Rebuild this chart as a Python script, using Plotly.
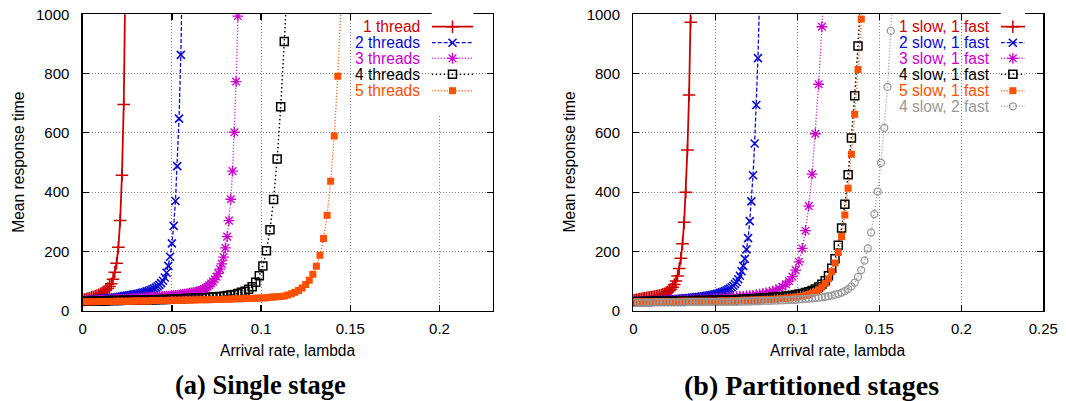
import plotly.graph_objects as go

W, H = 1066, 401

# ---------------- data ----------------
# arrival-rate grids (lambda)
LAM_FINE = [
    0.000, 0.001, 0.002, 0.003, 0.004, 0.005, 0.006, 0.007, 0.008, 0.009,
    0.010, 0.011, 0.012, 0.013, 0.014, 0.015, 0.016, 0.017, 0.018, 0.019,
    0.020, 0.021, 0.022, 0.023, 0.024, 0.025, 0.026, 0.027, 0.028, 0.029,
    0.030, 0.031, 0.032, 0.033, 0.034, 0.035, 0.036, 0.037, 0.038, 0.039,
    0.040, 0.041, 0.042, 0.043, 0.044, 0.045, 0.046, 0.047, 0.048, 0.049,
    0.050, 0.051, 0.052, 0.053, 0.054, 0.055, 0.056, 0.057, 0.058, 0.059,
    0.060, 0.061, 0.062, 0.063, 0.064, 0.065, 0.066, 0.067, 0.068, 0.069,
    0.070, 0.071, 0.072, 0.073, 0.074, 0.075, 0.076, 0.077, 0.078, 0.079,
    0.080, 0.081, 0.082, 0.083, 0.084, 0.085, 0.086, 0.087, 0.088]
LAM_ODD = [
    0.001, 0.003, 0.005, 0.007, 0.009, 0.011, 0.013, 0.015, 0.017, 0.019,
    0.021, 0.023, 0.025, 0.027, 0.029, 0.031, 0.033, 0.035, 0.037, 0.039,
    0.041, 0.043, 0.045, 0.047, 0.049, 0.051, 0.053, 0.055, 0.057, 0.059,
    0.061, 0.063, 0.065, 0.067, 0.069, 0.071, 0.073, 0.075, 0.077, 0.079,
    0.081, 0.083, 0.085, 0.087, 0.089, 0.091, 0.093, 0.095, 0.097, 0.099,
    0.101, 0.103, 0.105, 0.107, 0.109, 0.111, 0.113, 0.115, 0.117, 0.119,
    0.121, 0.123, 0.125, 0.127, 0.129, 0.131, 0.133, 0.135, 0.137, 0.139,
    0.141, 0.143, 0.145, 0.147, 0.149, 0.151, 0.153, 0.155, 0.157, 0.159]

# (a) Single stage
single_names = ["1 thread", "2 threads", "3 threads", "4 threads", "5 threads"]
t_1_thread = [37, 38, 39, 41, 43, 45, 47, 49, 51, 54, 57, 60, 64, 69, 75, 82, 91,
              106, 130, 160, 214, 304, 457, 696, 1150]
t_2_threads = [35, 35, 36, 36, 37, 37, 38, 38, 39, 39, 40, 40, 41, 41, 42, 43, 43,
               44, 45, 45, 46, 47, 48, 49, 50, 51, 52, 53, 54, 55, 56, 57, 58, 60,
               61, 63, 65, 67, 69, 72, 75, 78, 82, 87, 93, 101, 112, 128, 151, 182,
               227, 286, 370, 488, 648, 863, 1200]
t_3_threads = [33, 33, 33, 34, 34, 34, 34, 35, 35, 35, 35, 36, 36, 36, 36, 37, 37,
               37, 37, 38, 38, 38, 39, 39, 39, 40, 40, 40, 41, 41, 41, 42, 42, 42,
               43, 43, 43, 44, 44, 45, 45, 46, 46, 47, 47, 48, 48, 49, 49, 50, 50,
               51, 52, 52, 53, 54, 55, 56, 57, 58, 59, 60, 61, 62, 64, 65, 67, 70,
               73, 77, 81, 86, 92, 98, 106, 115, 126, 140, 158, 181, 212, 250, 304,
               376, 471, 602, 773, 994, 1290]
t_4_threads = [32, 32, 32, 33, 33, 33, 33, 34, 34, 34, 34, 35, 35, 35, 35, 36, 36,
               36, 37, 37, 37, 38, 38, 38, 39, 39, 40, 40, 41, 41, 42, 42, 43, 44,
               44, 45, 46, 47, 48, 49, 51, 53, 55, 58, 62, 66, 72, 81, 96, 118, 151,
               202, 273, 375, 512, 688, 908, 1140]
t_5_threads = [30, 30, 30, 30, 31, 31, 31, 31, 31, 32, 32, 32, 32, 32, 33, 33, 33,
               33, 33, 34, 34, 34, 34, 34, 35, 35, 35, 35, 36, 36, 36, 36, 37, 37,
               37, 37, 38, 38, 38, 39, 39, 39, 40, 40, 40, 41, 41, 42, 42, 43, 43,
               44, 45, 46, 47, 48, 50, 53, 57, 62, 68, 77, 88, 103, 123, 150, 187,
               244, 322, 437, 589, 791, 1060]

# (b) Partitioned stages
part_names = ["1 slow, 1 fast", "2 slow, 1 fast", "3 slow, 1 fast",
              "4 slow, 1 fast", "5 slow, 1 fast", "4 slow, 2 fast"]
t_1s_1f = [35, 36, 37, 38, 39, 40, 41, 42, 43, 44, 45, 46, 47, 48, 49, 50, 51, 53,
           55, 57, 60, 63, 67, 72, 79, 88, 100, 117, 142, 177, 226, 298, 400, 542,
           728, 973, 1300]
t_2s_1f = [32, 32, 32, 32, 33, 33, 33, 33, 33, 34, 34, 34, 34, 35, 35, 35, 35, 36,
           36, 36, 37, 37, 37, 38, 38, 38, 39, 39, 40, 40, 41, 41, 42, 42, 43, 43,
           44, 44, 45, 46, 46, 47, 48, 48, 49, 50, 51, 52, 53, 54, 55, 57, 58, 60,
           62, 64, 66, 69, 72, 75, 79, 84, 90, 97, 106, 118, 133, 151, 175, 207,
           245, 302, 369, 457, 564, 694, 852, 1050]
t_3s_1f = [32, 32, 32, 32, 33, 33, 33, 33, 34, 34, 34, 35, 35, 35, 36, 36, 37, 37,
           38, 38, 39, 39, 40, 40, 41, 42, 42, 43, 44, 45, 46, 47, 48, 49, 50, 51,
           52, 54, 56, 58, 60, 63, 66, 70, 75, 81, 89, 100, 115, 137, 165, 210,
           270, 353, 461, 597, 764, 958, 1200]
t_4s_1f = [31, 31, 31, 31, 31, 32, 32, 32, 32, 32, 32, 32, 33, 33, 33, 33, 33, 33,
           34, 34, 34, 34, 34, 35, 35, 35, 36, 36, 36, 37, 37, 38, 38, 39, 39, 40,
           40, 41, 42, 42, 43, 44, 45, 46, 47, 48, 49, 50, 52, 54, 56, 58, 61, 64,
           68, 73, 80, 89, 101, 118, 143, 175, 221, 279, 359, 459, 583, 725, 893,
           1100]
t_5s_1f = [30, 30, 30, 30, 30, 30, 31, 31, 31, 31, 31, 31, 31, 31, 32, 32, 32, 32,
           32, 32, 32, 32, 32, 32, 32, 32, 33, 33, 33, 33, 34, 34, 34, 35, 35, 35,
           36, 36, 37, 37, 38, 38, 39, 39, 40, 41, 42, 43, 44, 45, 47, 49, 52, 55,
           59, 64, 71, 80, 92, 108, 132, 161, 196, 250, 323, 413, 528, 663, 814,
           984, 1150]
t_4s_2f = [27, 27, 27, 27, 27, 27, 28, 28, 28, 28, 28, 28, 28, 28, 28, 28, 29, 29,
           29, 29, 29, 29, 29, 29, 29, 29, 30, 30, 30, 30, 30, 30, 31, 31, 31, 31,
           32, 32, 32, 33, 33, 33, 34, 34, 35, 35, 36, 36, 37, 37, 38, 39, 40, 41,
           42, 43, 44, 45, 47, 49, 51, 54, 57, 61, 66, 73, 82, 95, 114, 137, 169,
           210, 264, 326, 402, 499, 617, 755, 944, 1180]

x_ticks_a = [0, 0.05, 0.1, 0.15, 0.2]
x_ticks_b = [0, 0.05, 0.1, 0.15, 0.2, 0.25]
y_ticks = [0, 200, 400, 600, 800, 1000]

single_series = [
    (single_names[0], LAM_FINE, t_1_thread),
    (single_names[1], LAM_FINE, t_2_threads),
    (single_names[2], LAM_FINE, t_3_threads),
    (single_names[3], LAM_ODD, t_4_threads),
    (single_names[4], LAM_ODD, t_5_threads),
]
part_series = [
    (part_names[0], LAM_FINE, t_1s_1f),
    (part_names[1], LAM_FINE, t_2s_1f),
    (part_names[2], LAM_ODD, t_3s_1f),
    (part_names[3], LAM_ODD, t_4s_1f),
    (part_names[4], LAM_ODD, t_5s_1f),
    (part_names[5], LAM_ODD, t_4s_2f),
]

# ---------------- styles ----------------
STYLES = [
    dict(color="#cc0000", symbol="cross-thin-open", size=9, mlw=1.5, dash="solid", width=1.8),
    dict(color="#0a0ad2", symbol="x-thin-open", size=8, mlw=1.6, dash="4px,2px", width=1.3),
    dict(color="#cc00cc", symbol="asterisk-open", size=9, mlw=1.3, dash="1px,2px", width=1.4),
    dict(color="#000000", symbol="square-open", size=8, mlw=1.5, dash="1.5px,2.5px", width=1.4),
    dict(color="#ff4f00", symbol="square", size=7, mlw=0, dash="1px,2px", width=1.4),
    dict(color="#999999", symbol="circle-open", size=7, mlw=1.3, dash="1px,2px", width=1.4),
]
FONT = "Liberation Sans, Arial, sans-serif"


def px_x(v):
    return v / W


def px_y(v):
    return 1 - v / H


fig = go.Figure()


def add_series(series, xa, ya):
    for i, (name, lam, vals) in enumerate(series):
        st = STYLES[i]
        fig.add_trace(go.Scatter(
            x=lam[:len(vals)], y=vals, mode="lines+markers", name=name,
            xaxis=xa, yaxis=ya, showlegend=False,
            line=dict(color=st["color"], width=st["width"], dash=st["dash"]),
            marker=dict(symbol=st["symbol"], size=st["size"], color=st["color"],
                        line=dict(color=st["color"], width=st["mlw"])),
        ))


add_series(single_series, "x", "y")
add_series(part_series, "x2", "y2")

# ---------------- gnuplot-style keys ----------------
ROWS = [26.7, 42.7, 58.3, 74.3, 90.7, 106.3]
annotations = []


def add_key(names, xa, ya, text_right):
    for i, name in enumerate(names):
        st = STYLES[i]
        fig.add_trace(go.Scatter(
            x=[0, 1], y=[ROWS[i], ROWS[i]], mode="lines", xaxis=xa, yaxis=ya,
            showlegend=False, hoverinfo="skip", cliponaxis=False,
            line=dict(color=st["color"], width=st["width"], dash=st["dash"])))
        fig.add_trace(go.Scatter(
            x=[0.5], y=[ROWS[i]], mode="markers", xaxis=xa, yaxis=ya,
            showlegend=False, hoverinfo="skip", cliponaxis=False,
            marker=dict(symbol=st["symbol"], size=st["size"], color=st["color"],
                        line=dict(color=st["color"], width=st["mlw"]))))
        annotations.append(dict(
            text=name, x=px_x(text_right), y=px_y(ROWS[i]), xref="paper", yref="paper",
            xanchor="right", yanchor="middle", showarrow=False,
            font=dict(family=FONT, size=15.6, color=st["color"])))


add_key(single_names, "x3", "y3", 421.7)
add_key(part_names, "x4", "y4", 991.7)

# ---------------- axes ----------------
ydom = [px_y(310.7), px_y(14.3)]
common_x = dict(showline=True, linecolor="black", linewidth=1.3, mirror="ticks",
                ticks="inside", ticklen=6, tickwidth=1.2, tickcolor="black",
                showgrid=True, gridcolor="#808080", griddash="1px,2px", gridwidth=1,
                zeroline=False, automargin=False, ticklabeloverflow="allow",
                tickfont=dict(family=FONT, size=15, color="black"),
                ticklabelstandoff=4)
common_y = dict(common_x)
common_y["ticklabelstandoff"] = 9

key_axis = dict(visible=False, fixedrange=True, showgrid=False, zeroline=False,
                automargin=False)

fig.update_layout(
    template="none",
    width=W, height=H, autosize=False, margin=dict(l=0, r=0, t=0, b=0, pad=0),
    paper_bgcolor="white", plot_bgcolor="white", showlegend=False,
    hovermode=False,
    xaxis=dict(common_x, domain=[px_x(82.7), px_x(493)], range=[0, 0.23],
               tickvals=x_ticks_a, anchor="y"),
    yaxis=dict(common_y, domain=ydom, range=[0, 1000], tickvals=y_ticks, anchor="x"),
    xaxis2=dict(common_x, domain=[px_x(633.3), px_x(1043.3)], range=[0, 0.25],
                tickvals=x_ticks_b, anchor="y2"),
    yaxis2=dict(common_y, domain=ydom, range=[0, 1000], tickvals=y_ticks, anchor="x2"),
    xaxis3=dict(key_axis, domain=[px_x(431.7), px_x(473.3)], range=[0, 1], anchor="y3"),
    yaxis3=dict(key_axis, domain=[px_y(115), px_y(10)], range=[115, 10], anchor="x3"),
    xaxis4=dict(key_axis, domain=[px_x(1000.7), px_x(1025)], range=[0, 1], anchor="y4"),
    yaxis4=dict(key_axis, domain=[px_y(115), px_y(10)], range=[115, 10], anchor="x4"),
)

# white key backgrounds that hide the grid (but not the data)
fig.add_shape(type="rect", xref="paper", yref="paper", layer="between",
              x0=px_x(327), x1=px_x(484), y0=px_y(97), y1=px_y(15),
              fillcolor="white", line=dict(width=0))
fig.add_shape(type="rect", xref="paper", yref="paper", layer="between",
              x0=px_x(884), x1=px_x(1041), y0=px_y(113), y1=px_y(15),
              fillcolor="white", line=dict(width=0))

# axis titles and captions
for cx in (288, 838):
    annotations.append(dict(text="Arrival rate, lambda", x=px_x(cx), y=px_y(350.5),
                            xref="paper", yref="paper", showarrow=False,
                            xanchor="center", yanchor="middle",
                            font=dict(family=FONT, size=15.6, color="black")))
for cx in (18.3, 569):
    annotations.append(dict(text="Mean response time", x=px_x(cx), y=px_y(162.5),
                            xref="paper", yref="paper", showarrow=False, textangle=-90,
                            xanchor="center", yanchor="middle",
                            font=dict(family=FONT, size=15.6, color="black")))
for txt, cx, fs in (("(a) Single stage", 260.5, 26.5),
                    ("(b) Partitioned stages", 811.7, 28)):
    annotations.append(dict(text="<b>" + txt + "</b>", x=px_x(cx), y=px_y(385),
                            xref="paper", yref="paper", showarrow=False,
                            xanchor="center", yanchor="middle",
                            font=dict(family="Liberation Serif, Times New Roman, serif",
                                      size=fs, color="black")))

fig.update_layout(annotations=annotations)
# remove the page's default body margin so the figure fills the window exactly
fig.write_html("out.html",
               config={"displayModeBar": False, "staticPlot": True},
               post_script="document.body.style.margin='0';"
                           "document.body.style.overflow='hidden';")
